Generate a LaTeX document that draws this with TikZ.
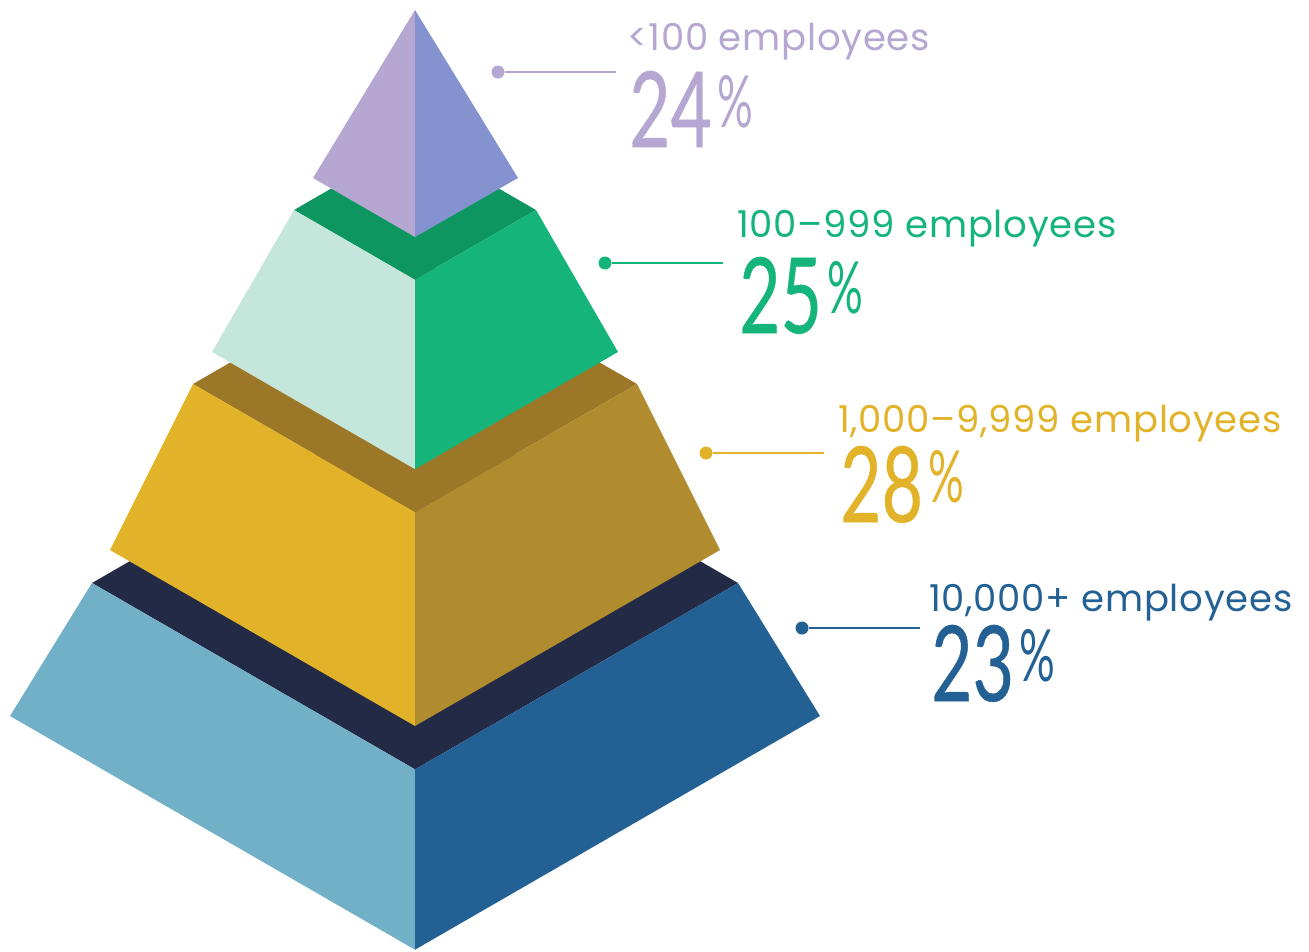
\documentclass[tikz,border=0pt]{standalone}
\usepackage{fontspec}
\setmainfont{Poppins}[LetterSpace=2]
\newfontfamily\numfont{Lato}[FakeBold=0.5]
\newfontfamily\signfont{Lato}
\usetikzlibrary{positioning}

\definecolor{purpleL}{HTML}{B5A7D1}
\definecolor{purpleR}{HTML}{8492CF}
\definecolor{grnT}{HTML}{0E9661}
\definecolor{grnL}{HTML}{C5E6DB}
\definecolor{grnR}{HTML}{14B47A}
\definecolor{yelT}{HTML}{9B7727}
\definecolor{yelL}{HTML}{E2B228}
\definecolor{yelR}{HTML}{B08C2E}
\definecolor{blueT}{HTML}{222A45}
\definecolor{blueL}{HTML}{72B0C8}
\definecolor{blueR}{HTML}{236094}

\begin{document}
\begin{tikzpicture}[x=1pt,y=-1pt,
  pin/.style={circle,fill,inner sep=0pt,minimum size=13pt},
  lbl/.style={anchor=base west,inner sep=0pt,font=\fontsize{37}{37}\selectfont},
  pct/.style={anchor=base west,inner sep=0pt}]
  \useasboundingbox (0,0) rectangle (1309,951);

  % layers, bottom one first
  \foreach \a/\yt/\b/\yb/\ct/\cl/\cr in {323/583/405/716/blueT/blueL/blueR,
      222/384/305/550/yelT/yelL/yelR, 121/210/203/352/grnT/grnL/grnR} {
    \fill[\ct] (415-\a,\yt) -- (415,\yt-0.577*\a) -- (415+\a,\yt) -- (415,\yt+0.577*\a) -- cycle; % top face
    \fill[\cl] (415-\a,\yt) -- (415,\yt+0.577*\a) -- (415,\yb+0.577*\b) -- (415-\b,\yb) -- cycle;
    \fill[\cr] (415+\a,\yt) -- (415,\yt+0.577*\a) -- (415,\yb+0.577*\b) -- (415+\b,\yb) -- cycle;
  }

  % tip
  \fill[purpleL] (415,10) -- (313,178) -- (415,237) -- cycle;
  \fill[purpleR] (415,10) -- (518,178) -- (415,237) -- cycle;

  % labels
  \foreach \dx/\dy/\lx/\ly/\ny/\c/\t/\p [count=\i] in {
      498/72/627/50/147/purpleL/{\textless100 employees}/24,
      605/263/737/237/333/grnR/{100–999 employees}/25,
      706/453/838/432/522/yelL/{1,000–9,999 employees}/28,
      802/628/929/611/701/blueR/{10,000+ employees}/23} {
    \node[pin,\c] (dot\i) at (\dx,\dy) {};
    \coordinate (end\i) at (\dx+118,\dy);
    \draw[\c,line width=2pt] (dot\i) -- (end\i);
    \node[lbl,\c] (lab\i) at (\lx,\ly) {\t};
    \node[pct,\c] (num\i) at (\lx+2,\ny) {\scalebox{0.68}[1]{\fontsize{105}{105}\numfont\p}};
    \node[pct,\c] (sign\i) at ([shift={(5,-20)}]num\i.base east) {\scalebox{0.62}[1]{\fontsize{72}{72}\signfont\%}};
  }
\end{tikzpicture}
\end{document}
